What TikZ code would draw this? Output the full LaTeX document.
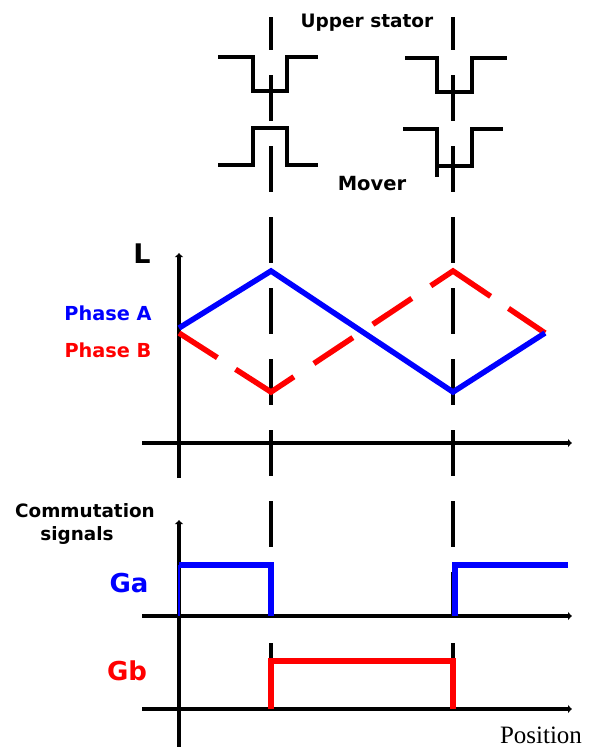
\documentclass[tikz,border=0pt]{standalone}
\usepackage{fontspec}
\setmainfont{Liberation Serif}
\setsansfont{DejaVu Sans}
\usetikzlibrary{arrows.meta}
\def\lbl#1{\textsf{\textbf{#1}}}
\def\fs#1{\fontsize{#1}{#1}\selectfont}

\begin{document}
\begin{tikzpicture}[x=1pt,y=-1pt]
    \tikzstyle{every node}=[inner sep=0pt,anchor=base]
    \tikzstyle{iron}=[line width=3.2pt,line join=miter]
    \tikzstyle{axis}=[line width=3.2pt,-{Latex[length=4pt,width=9pt]}]
    \tikzstyle{guide}=[line width=3.2pt,dash pattern=on 46pt off 25pt,dash phase=13pt]
    \tikzstyle{phaseA}=[line width=5.5pt,blue,line join=miter]
    \tikzstyle{phaseB}=[line width=5.5pt,red,line join=miter,
      dash pattern=on 45.6pt off 21.6pt on 69.6pt off 24pt on 46.8pt off 24pt
        on 46.8pt off 22.8pt on 72pt off 21.6pt on 44.4pt off 40pt]
    \tikzstyle{gate}=[line width=5.5pt,line join=miter]
    \useasboundingbox (0,0) rectangle (590,747);

    \coordinate (origL) at (179,443);
    \coordinate (origA) at (179,616);
    \coordinate (origB) at (179,709);
    \coordinate (left) at (271,0);
    \coordinate (right) at (453,0);

    \draw[guide] (left |- 0,17) -- (left |- 0,661);
    \draw[guide] (right |- 0,17) -- (right |- 0,661);

    \draw[iron] (218,57) -| (253,91) -| (287,57) -- (318,57);
    \draw[iron] (218,165) -| (253,128) -| (287,165) -- (318,165);
    \draw[iron] (405,58) -| (437,92) -| (472,58) -- (507,58);
    \draw[iron] (403,129) -- (437,129) -- (437,177)
      (437,166) -- (472,166) -- (472,129) -- (503,129);
    \node (stator) at (367,27) {\lbl{\fs{18.5}Upper stator}};
    \node (mover) at (372,190) {\lbl{\fs{19.5}Mover}};

    \draw[axis] (179,478) -- (179,253);
    \draw[axis] (142,443) -- (572,443);
    \node (L) at (142,263) {\lbl{\fs{27}L}};
    \node[blue] (pa) at (108,320) {\lbl{\fs{19.3}Phase A}};
    \node[red] (pb) at (108,357) {\lbl{\fs{19.3}Phase B}};

    \coordinate (a0) at (179,328);
    \coordinate (a1) at (271,271);
    \coordinate (a2) at (453,392);
    \coordinate (a3) at (545,333);
    \coordinate (b0) at (179,333);
    \coordinate (b1) at (271,392);
    \coordinate (b2) at (453,271);
    \coordinate (b3) at (545,333);
    \draw[phaseB] (b0) -- (b1) -- (b2) -- (b3);
    \draw[phaseA] (a0) -- (a1) -- (a2) -- (a3);

    \draw[axis] (179,747) -- (179,520);
    \draw[axis] (142,616) -- (572,616);
    \draw[axis] (142,709) -- (572,709);
    \node (comm) at (85,517) {\lbl{\fs{18.4}Commutation}};
    \node (sig) at (77,540) {\lbl{\fs{18.4}signals}};
    \node[blue] (ga) at (129,592) {\lbl{\fs{26}Ga}};
    \node[red] (gb) at (127,680) {\lbl{\fs{26}Gb}};
    \node (pos) at (541,743) {\fs{25}Position};

    \draw[blue,line width=1.5pt] (origA) -- (179,565);
    \draw[gate,blue] (179,565) -- (271,565) -- (271,616);
    \draw[gate,blue] (455,616) -- (455,565) -- (568,565);
    \draw[gate,red] (271,709) -- (271,661) -- (453,661) -- (453,709);
\end{tikzpicture}
\end{document}
